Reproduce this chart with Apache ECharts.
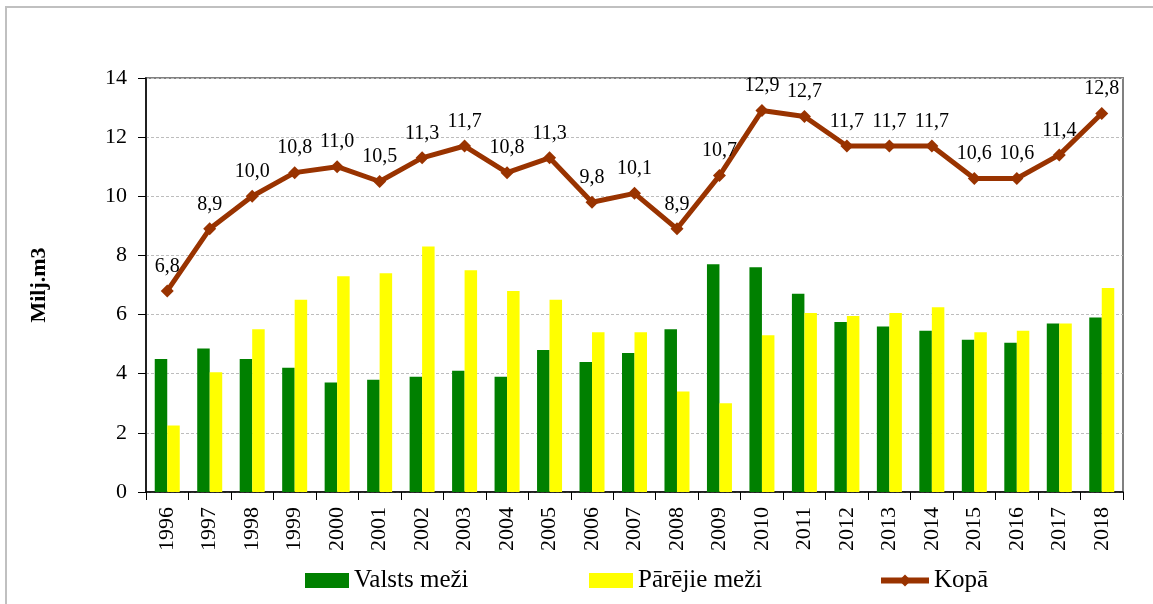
<!DOCTYPE html>
<html>
<head>
<meta charset="utf-8">
<script src="https://cdn.jsdelivr.net/npm/echarts@6/dist/echarts.min.js"></script>
<style>
html,body{margin:0;padding:0;background:#fff;}
#c{width:1153px;height:604px;}
</style>
</head>
<body>
<div id="c"></div>
<script>
const years = ['1996','1997','1998','1999','2000','2001','2002','2003','2004','2005','2006','2007','2008','2009','2010','2011','2012','2013','2014','2015','2016','2017','2018'];
const valstsMezi = [4.5,4.85,4.5,4.2,3.7,3.8,3.9,4.1,3.9,4.8,4.4,4.7,5.5,7.7,7.6,6.7,5.75,5.6,5.45,5.15,5.05,5.7,5.9];
const parejieMezi = [2.25,4.05,5.5,6.5,7.3,7.4,8.3,7.5,6.8,6.5,5.4,5.4,3.4,3.0,5.3,6.05,5.95,6.05,6.25,5.4,5.45,5.7,6.9];
const kopa = [6.8,8.9,10.0,10.8,11.0,10.5,11.3,11.7,10.8,11.3,9.8,10.1,8.9,10.7,12.9,12.7,11.7,11.7,11.7,10.6,10.6,11.4,12.8];
const yTicks = [0,2,4,6,8,10,12,14];

const serif = '"Liberation Serif", "DejaVu Serif", serif';
const chart = echarts.init(document.getElementById('c'));
const legendText = {fontFamily: serif, fontSize: 25, color: '#000'};
chart.setOption({
  animation: false,
  backgroundColor: '#fff',
  graphic: [{
    type: 'rect', shape: {x: 6, y: 7, width: 1300, height: 800},
    style: {fill: 'none', stroke: '#c0c0c0', lineWidth: 2}, z: -10
  }],
  grid: {left: 146, right: 30, top: 78, bottom: 112, show: true, borderColor: '#808080', borderWidth: 2, backgroundColor: 'transparent'},
  legend: [
    {data: [{name: 'Valsts meži', icon: 'rect'}], left: 305, top: 568, itemWidth: 44, itemHeight: 15, textStyle: legendText, padding: 0},
    {data: [{name: 'Pārējie meži', icon: 'rect'}], left: 589, top: 568, itemWidth: 44, itemHeight: 15, textStyle: legendText, padding: 0},
    {data: ['Kopā'], left: 878, top: 568, itemWidth: 48, itemHeight: 15, textStyle: legendText, padding: 0,
     lineStyle: {width: 6, color: '#993300'}}
  ],
  xAxis: {
    type: 'category', data: years, boundaryGap: true,
    axisLine: {lineStyle: {color: '#000', width: 1.5}},
    axisTick: {show: true, length: 8, interval: 0, lineStyle: {color: '#000'}},
    axisLabel: {rotate: 90, interval: 0, margin: 15, fontFamily: serif, fontSize: 22, color: '#000'},
    splitLine: {show: false}
  },
  yAxis: {
    type: 'value', min: yTicks[0], max: yTicks[yTicks.length-1], interval: 2,
    name: 'Milj.m3', nameLocation: 'middle', nameRotate: 90, nameGap: 96,
    nameTextStyle: {fontFamily: serif, fontSize: 22, fontWeight: 'bold', color: '#000'},
    axisLine: {show: true, lineStyle: {color: '#000', width: 1.5}},
    axisTick: {show: true, length: 8, lineStyle: {color: '#000'}},
    axisLabel: {margin: 19, fontFamily: serif, fontSize: 22, color: '#000'},
    splitLine: {show: true, lineStyle: {color: '#bdbdbd', type: [3, 2], width: 1}}
  },
  series: [
    {name: 'Valsts meži', type: 'bar', data: valstsMezi, barWidth: 12.5, barGap: '0%',
     itemStyle: {color: '#008000'}, z: 2},
    {name: 'Pārējie meži', type: 'bar', data: parejieMezi, barWidth: 12.5, barGap: '0%',
     itemStyle: {color: '#ffff00'}, z: 2},
    {name: 'Kopā', type: 'line', data: kopa, z: 5,
     lineStyle: {color: '#993300', width: 5},
     itemStyle: {color: '#993300'},
     symbol: 'diamond', symbolSize: 13,
     label: {show: true, position: 'top', distance: 8, fontFamily: serif, fontSize: 20, color: '#000',
             formatter: p => p.value.toFixed(1).replace('.', ',')}}
  ]
});
</script>
</body>
</html>
